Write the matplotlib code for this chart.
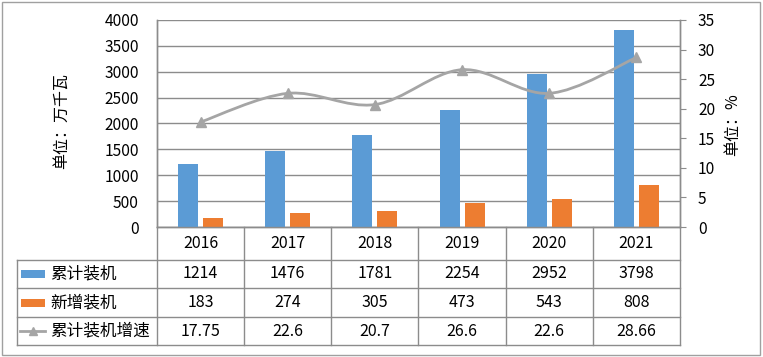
import matplotlib
matplotlib.use("Agg")
import matplotlib.pyplot as plt
import numpy as np
from matplotlib.path import Path
from matplotlib.patches import PathPatch, Rectangle
from matplotlib.lines import Line2D
import matplotlib.transforms as mtransforms

plt.rcParams['font.family'] = ['Noto Sans CJK SC', 'DejaVu Sans']

years = ['2016', '2017', '2018', '2019', '2020', '2021']
cumulative = [1214, 1476, 1781, 2254, 2952, 3798]
new_added = [183, 274, 305, 473, 543, 808]
growth = [17.75, 22.6, 20.7, 26.6, 22.6, 28.66]
growth_labels = ['17.75', '22.6', '20.7', '26.6', '22.6', '28.66']
series_names = ['累计装机', '新增装机', '累计装机增速']

BLUE = '#5B9BD5'
ORANGE = '#ED7D31'
GRAY = '#A5A5A5'
GRID = '#8C8C8C'
TXT = '#000000'

W, H = 763, 357
fig = plt.figure(figsize=(W / 100, H / 100), dpi=100)

def fx(px):
    return px / W

def fy(py):
    return 1 - py / H

L, R, T, B = 157, 680, 20, 227
ax = fig.add_axes([fx(L), fy(B), fx(R) - fx(L), fy(T) - fy(B)])
ax2 = ax.twinx()

x = np.arange(len(years))
bw = 0.23
off = 0.144
ax.bar(x - off, cumulative, bw, color=BLUE, zorder=3)
ax.bar(x + off, new_added, bw, color=ORANGE, zorder=3)
ax.set_xlim(-0.5, len(years) - 0.5)
ax.set_ylim(0, 4000)
ax.set_yticks(np.arange(0, 4001, 500))
ax.yaxis.grid(True, color=GRID, linewidth=1.0, zorder=0)
ax.set_axisbelow(True)
ax.set_xticks([])
ax.tick_params(axis='y', length=0, labelsize=11.2, pad=13)

for a in (ax, ax2):
    a.spines['top'].set_visible(False)
    for s in ('left', 'right', 'bottom'):
        a.spines[s].set_color(GRID)
        a.spines[s].set_linewidth(1.0)

ax2.set_ylim(0, 35)
ax2.set_yticks(np.arange(0, 36, 5))
ax2.tick_params(axis='y', length=4, color=GRID, labelsize=11.2, pad=9)

# smooth line (Catmull-Rom style Bezier, like Excel's smoothed line)
pts = np.column_stack([x, growth]).astype(float)
n = len(pts)
verts = [pts[0]]
codes = [Path.MOVETO]
for i in range(n - 1):
    p0 = pts[i - 1] if i > 0 else pts[i]
    p1 = pts[i]
    p2 = pts[i + 1]
    p3 = pts[i + 2] if i + 2 < n else pts[i + 1]
    c1 = p1 + (p2 - p0) / 6
    c2 = p2 - (p3 - p1) / 6
    verts += [c1, c2, p2]
    codes += [Path.CURVE4] * 3
ax2.add_patch(PathPatch(Path(verts, codes), facecolor='none', edgecolor=GRAY,
                        linewidth=2.0, zorder=4))
ax2.plot(x, growth, linestyle='none', marker='^', markersize=7, color=GRAY, zorder=5)

# axis titles
fig.text(fx(61), fy(121), '单位：万千瓦', rotation=90, ha='center', va='center',
         fontsize=11.5, color=TXT)
fig.text(fx(733), fy(125), '单位：%', rotation=90, ha='center', va='center',
         fontsize=11.5, color=TXT)

# data table
blend = mtransforms.blended_transform_factory(ax.transData, fig.transFigure)
row_lines = [259.5, 288, 316.7, 345.3]
left_col = 17
for i in range(len(years) + 1):
    xb = i - 0.5
    fig.add_artist(Line2D([xb, xb], [fy(B), fy(row_lines[-1])], transform=blend,
                          color=GRID, linewidth=1.0))
fig.add_artist(Line2D([fx(left_col), fx(left_col)], [fy(row_lines[0]), fy(row_lines[-1])],
                      transform=fig.transFigure, color=GRID, linewidth=1.0))
for yl in row_lines:
    fig.add_artist(Line2D([fx(left_col), fx(R)], [fy(yl), fy(yl)],
                          transform=fig.transFigure, color=GRID, linewidth=1.0))

header_y = 243
row_y = [274, 302.5, 331]
for i, yr in enumerate(years):
    fig.text(i, fy(header_y), yr, transform=blend, ha='center', va='center',
             fontsize=11.5, color=TXT)
rows = [[str(v) for v in cumulative], [str(v) for v in new_added], growth_labels]
for r, vals in enumerate(rows):
    for i, v in enumerate(vals):
        fig.text(i, fy(row_y[r]), v, transform=blend, ha='center', va='center',
                 fontsize=11.5, color=TXT)

# legend keys
fig.add_artist(Rectangle((fx(21), fy(row_y[0] + 4)), fx(24), 8 / H,
                         transform=fig.transFigure, facecolor=BLUE, edgecolor='none'))
fig.add_artist(Rectangle((fx(21), fy(row_y[1] + 4)), fx(24), 8 / H,
                         transform=fig.transFigure, facecolor=ORANGE, edgecolor='none'))
fig.add_artist(Line2D([fx(20), fx(45)], [fy(row_y[2]), fy(row_y[2])],
                      transform=fig.transFigure, color=GRAY, linewidth=2.0))
fig.add_artist(Line2D([fx(32.5)], [fy(row_y[2])], transform=fig.transFigure,
                      color=GRAY, marker='^', markersize=6, linestyle='none'))
for r, name in enumerate(series_names):
    fig.text(fx(50), fy(row_y[r]), name, ha='left', va='center', fontsize=12, color=TXT)

# outer border
fig.add_artist(Rectangle((fx(2), fy(355)), fx(758), 353 / H, transform=fig.transFigure,
                         facecolor='none', edgecolor='#A0A0A0', linewidth=1.0))

fig.savefig('out.png', dpi=100)
